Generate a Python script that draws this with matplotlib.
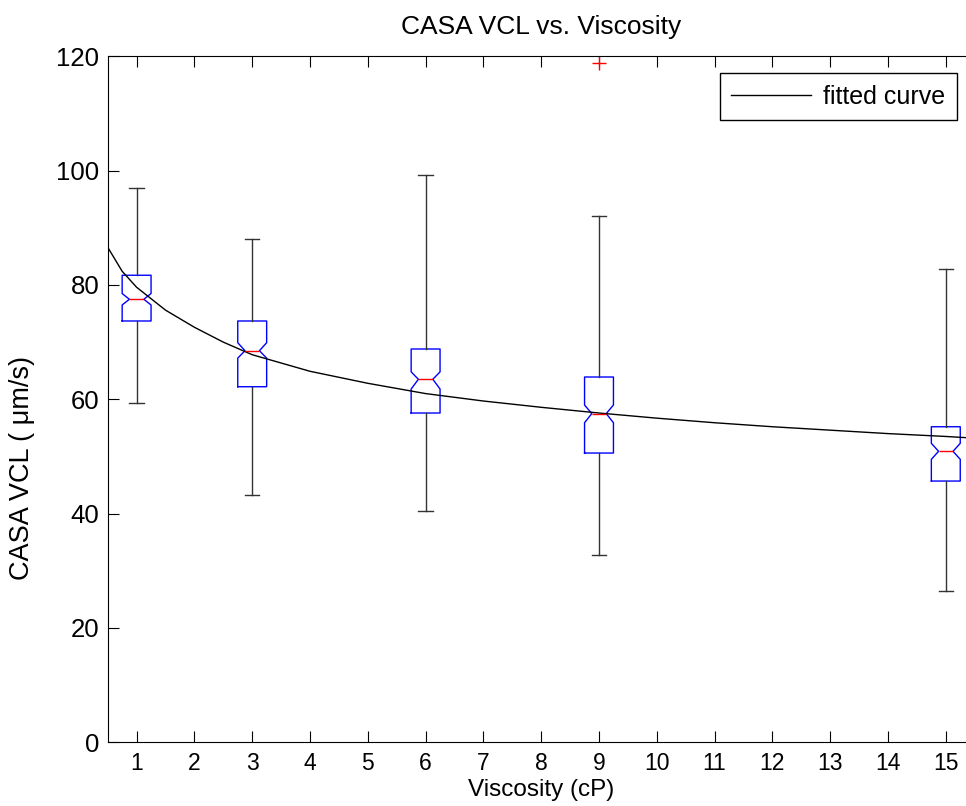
import matplotlib
matplotlib.use('Agg')
import matplotlib.pyplot as plt

plt.rcParams['font.family'] = ['Liberation Sans', 'DejaVu Sans']

# boxplot summary values (CASA VCL, um/s)
viscosity = [1, 3, 6, 9, 15]
medians = [77.5, 68.5, 63.5, 57.5, 50.9]
q1 = [73.7, 62.2, 57.6, 50.6, 45.7]
q3 = [81.7, 73.7, 68.8, 63.9, 55.2]
whisker_lo = [59.4, 43.3, 40.5, 32.7, 26.4]
whisker_hi = [96.9, 88.1, 99.3, 92.1, 82.8]
notch_lo = [76.5, 67.2, 61.8, 55.9, 49.5]
notch_hi = [78.5, 69.9, 64.8, 59.0, 52.3]
outliers = [[], [], [], [118.8], []]

# fitted curve
fit_x = [0.5, 0.75, 1, 1.5, 2, 2.5, 3, 4, 5, 6, 7, 8, 9, 10, 11, 12, 13, 14, 15, 15.5]
fit_y = [86.6, 82.4, 79.6, 75.6, 72.6, 70.0, 67.8, 64.9, 62.8, 61.0, 59.7, 58.6,
         57.6, 56.7, 55.9, 55.2, 54.6, 54.0, 53.5, 53.2]

xticks = list(range(1, 16))
yticks = [0, 20, 40, 60, 80, 100, 120]

fig = plt.figure(figsize=(9.66, 8.06), dpi=100)
ax = fig.add_axes([107.7 / 966, 1 - 742.3 / 806, (974.7 - 107.7) / 966, (742.3 - 56.3) / 806])

stats = []
for i in range(len(viscosity)):
    stats.append(dict(med=medians[i], q1=q1[i], q3=q3[i],
                      whislo=whisker_lo[i], whishi=whisker_hi[i],
                      cilo=notch_lo[i], cihi=notch_hi[i], fliers=outliers[i]))

ax.bxp(stats, positions=viscosity, widths=0.5, shownotches=True, manage_ticks=False,
       boxprops=dict(color='blue', linewidth=1),
       medianprops=dict(color='red', linewidth=1),
       whiskerprops=dict(color='#333333', linewidth=1),
       capprops=dict(color='#333333', linewidth=1),
       flierprops=dict(marker='+', markeredgecolor='red', markersize=10, linestyle='none'))

line, = ax.plot(fit_x, fit_y, color='black', linewidth=1, label='fitted curve')

ax.set_xlim(0.5, 15.5)
ax.set_ylim(0, 120)
ax.set_xticks(xticks)
ax.set_yticks(yticks)
ax.tick_params(axis='x', direction='in', top=True, length=8, labelsize=16.5, pad=7)
ax.tick_params(axis='y', direction='in', length=8, labelsize=18.5, pad=6)
ax.spines['right'].set_visible(False)

ax.set_title('CASA VCL vs. Viscosity', fontsize=19, pad=16)
ax.set_xlabel('Viscosity (cP)', fontsize=17.5, labelpad=3)
ax.set_ylabel('CASA VCL ( \u03bcm/s)', fontsize=19.5)
ax.yaxis.set_label_coords(-73 / 867, 0.40)

leg = ax.legend(handles=[line], loc='upper right',
                bbox_to_anchor=(956.7 / 966, 1 - 73.3 / 806), bbox_transform=fig.transFigure,
                borderaxespad=0, fancybox=False, framealpha=1, edgecolor='black',
                handlelength=3.2, handletextpad=0.5, fontsize=18, borderpad=0.45)
leg.get_frame().set_linewidth(1)

fig.savefig('out.png', dpi=100)
